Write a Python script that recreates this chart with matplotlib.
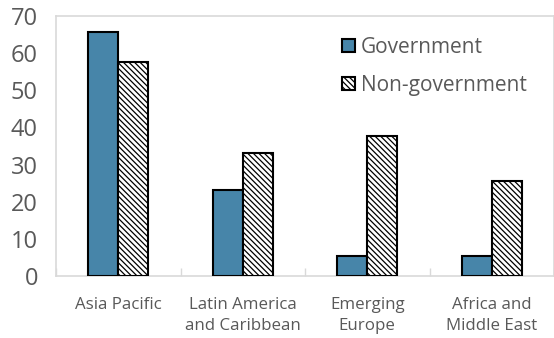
import matplotlib
matplotlib.use("Agg")
import matplotlib.pyplot as plt
import numpy as np

plt.rcParams['font.family'] = ['Open Sans', 'DejaVu Sans']
plt.rcParams['hatch.linewidth'] = 0.9

categories = ["Asia Pacific", "Latin America\nand Caribbean", "Emerging\nEurope", "Africa and\nMiddle East"]
government = [65.8, 23.1, 5.5, 5.5]
non_government = [57.5, 33.0, 37.6, 25.6]
series_names = ["Government", "Non-government"]
y_ticks = [0, 10, 20, 30, 40, 50, 60, 70]

text_color = "#595959"
grid_color = "#d9d9d9"
blue = "#4785a9"

fig = plt.figure(figsize=(5.54, 3.38), dpi=100)
ax = fig.add_axes([56 / 554, 1 - 276 / 338, 498 / 554, 260 / 338])

x = np.arange(len(categories))
w = 0.24
ax.bar(x - w / 2, government, width=w, color=blue, edgecolor="black",
       linewidth=1.5, label=series_names[0], zorder=3)
ax.bar(x + w / 2, non_government, width=w, color="white", edgecolor="black",
       hatch="\\\\\\\\\\\\", linewidth=1.5, label=series_names[1], zorder=3)

ax.set_xlim(-0.5, len(categories) - 0.5)
ax.set_ylim(0, 70)
ax.set_yticks(y_ticks)
ax.set_yticklabels([str(v) for v in y_ticks], fontsize=17, color=text_color)
ax.tick_params(axis="y", length=0, pad=13)

# category labels centred under each group, ticks on group boundaries
ax.set_xticks(x)
ax.set_xticklabels(categories, fontsize=12.2, color=text_color, linespacing=1.4)
ax.tick_params(axis="x", which="major", length=0, pad=15)
ax.set_xticks(np.arange(len(categories) + 1) - 0.5, minor=True)
ax.tick_params(axis="x", which="minor", length=6, direction="in", color=grid_color, width=1)

for s in ax.spines.values():
    s.set_color(grid_color)
    s.set_linewidth(1.2)

leg = ax.legend(loc="upper right", bbox_to_anchor=(0.975, 0.975), frameon=False,
                fontsize=15, handlelength=0.6, handleheight=0.6,
                handletextpad=0.3, labelspacing=0.8, borderaxespad=0.3)
for t in leg.get_texts():
    t.set_color(text_color)

fig.savefig("out.png", dpi=100)
